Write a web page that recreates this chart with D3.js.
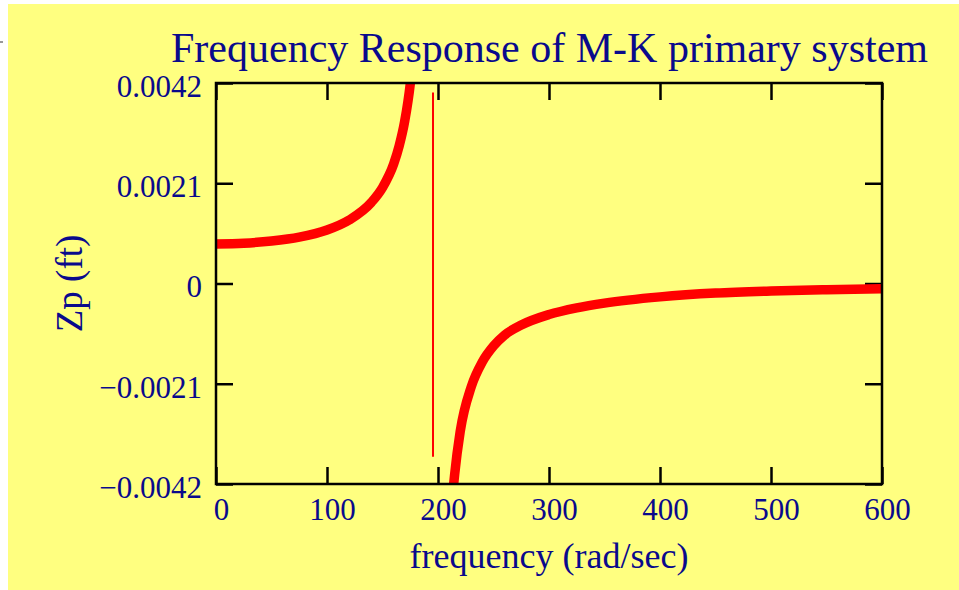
<!DOCTYPE html>
<html>
<head>
<meta charset="utf-8">
<script src="https://cdn.jsdelivr.net/npm/d3@7"></script>
<style>
  body { margin: 0; background: #fff; }
  text { font-family: "Liberation Serif", "Times New Roman", serif; fill: #0a0a8c; }
</style>
</head>
<body>
<div id="chart"></div>
<script>
// frequency (rad/sec) and response Zp (ft)
var freqBelow = [0, 25, 50, 75, 100, 120, 140, 150, 160, 165, 170, 175, 180, 185];
var zpBelow = [0.00083, 0.000845, 0.00089, 0.00097, 0.00112, 0.00133, 0.0017, 0.00201, 0.0025, 0.00288, 0.0034, 0.00418, 0.00545, 0.0079];
var freqAbove = [205, 210, 215, 220, 230, 240, 250, 260, 275, 300, 325, 350, 400, 450, 500, 550, 600];
var zpAbove = [-0.0083, -0.0054, -0.004, -0.0031, -0.00216, -0.00164, -0.00131, -0.00108, -0.00087, -0.00065, -0.00051, -0.00041, -0.00028, -0.0002, -0.000157, -0.00013, -0.00011];

// thin line at the resonance
var resonanceFreq = 195.5;
var resonanceZp = [0.004, -0.00363];

var xTicks = [0, 100, 200, 300, 400, 500, 600];
var yTicks = [-0.0042, -0.0021, 0, 0.0021, 0.0042];
var yTickLabels = ["\u22120.0042", "\u22120.0021", "0", "0.0021", "0.0042"];

var W = 959, H = 590;
var plot = {left: 216, right: 882, top: 83, bottom: 484};

var svg = d3.select("#chart").append("svg")
    .attr("width", W)
    .attr("height", H);

svg.append("rect")
    .attr("x", 8).attr("y", 4)
    .attr("width", W - 8).attr("height", H - 4)
    .attr("fill", "#ffff80");

svg.append("line")
    .attr("x1", 0).attr("x2", 3)
    .attr("y1", 42).attr("y2", 42)
    .attr("stroke", "#333").attr("stroke-width", 1);

var x = d3.scaleLinear().domain([0, 600]).range([plot.left, plot.right]);
var y = d3.scaleLinear().domain([-0.0042, 0.0042]).range([plot.bottom, plot.top]);

svg.append("clipPath").attr("id", "clip")
    .append("rect")
    .attr("x", plot.left).attr("y", plot.top)
    .attr("width", plot.right - plot.left)
    .attr("height", plot.bottom - plot.top);

// axes, ticks pointing inward on all four sides
var tickLen = 17;
var gx = svg.append("g")
    .attr("transform", "translate(0," + plot.bottom + ")")
    .call(d3.axisBottom(x).tickValues(xTicks).tickSize(-tickLen).tickPadding(14).tickFormat(d3.format("d")));
gx.selectAll("text").attr("dx", 5).style("font-size", "31px");

svg.append("g")
    .attr("transform", "translate(0," + plot.top + ")")
    .call(d3.axisTop(x).tickValues(xTicks).tickSize(-tickLen).tickFormat(""));

var gy = svg.append("g")
    .attr("transform", "translate(" + plot.left + ",0)")
    .call(d3.axisLeft(y).tickValues(yTicks).tickSize(-tickLen).tickPadding(14)
        .tickFormat(function(d, i) { return yTickLabels[i]; }));
gy.selectAll("text").attr("dy", "0.43em").style("font-size", "31px");

svg.append("g")
    .attr("transform", "translate(" + plot.right + ",0)")
    .call(d3.axisRight(y).tickValues(yTicks).tickSize(-tickLen).tickFormat(""));

svg.selectAll(".domain").remove();
svg.selectAll(".tick line").attr("stroke", "#000").attr("stroke-width", 2.5);
svg.selectAll(".tick text").attr("fill", "#0a0a8c").style("font-family", "'Liberation Serif', serif");

// response curve
var line = d3.line()
    .x(function(d) { return x(d[0]); })
    .y(function(d) { return y(d[1]); })
    .curve(d3.curveMonotoneX);

var curves = svg.append("g").attr("clip-path", "url(#clip)");
curves.append("path")
    .datum(d3.zip(freqBelow, zpBelow))
    .attr("d", line)
    .attr("fill", "none").attr("stroke", "#ff0000").attr("stroke-width", 9.5);
curves.append("path")
    .datum(d3.zip(freqAbove, zpAbove))
    .attr("d", line)
    .attr("fill", "none").attr("stroke", "#ff0000").attr("stroke-width", 9.5);

svg.append("line")
    .attr("x1", x(resonanceFreq)).attr("x2", x(resonanceFreq))
    .attr("y1", y(resonanceZp[0])).attr("y2", y(resonanceZp[1]))
    .attr("stroke", "#ff0000").attr("stroke-width", 2);

// frame
svg.append("rect")
    .attr("x", plot.left).attr("y", plot.top)
    .attr("width", plot.right - plot.left)
    .attr("height", plot.bottom - plot.top)
    .attr("fill", "none").attr("stroke", "#000").attr("stroke-width", 2.5);

// titles
svg.append("text")
    .attr("x", 171).attr("y", 62)
    .style("font-size", "42px")
    .text("Frequency Response of M-K primary system");

svg.append("text")
    .attr("x", 549).attr("y", 568)
    .attr("text-anchor", "middle")
    .style("font-size", "36px")
    .text("frequency (rad/sec)");

svg.append("text")
    .attr("transform", "translate(82," + (plot.top + plot.bottom) / 2 + ") rotate(-90)")
    .attr("text-anchor", "middle")
    .style("font-size", "37px")
    .text("Zp (ft)");
</script>
</body>
</html>
